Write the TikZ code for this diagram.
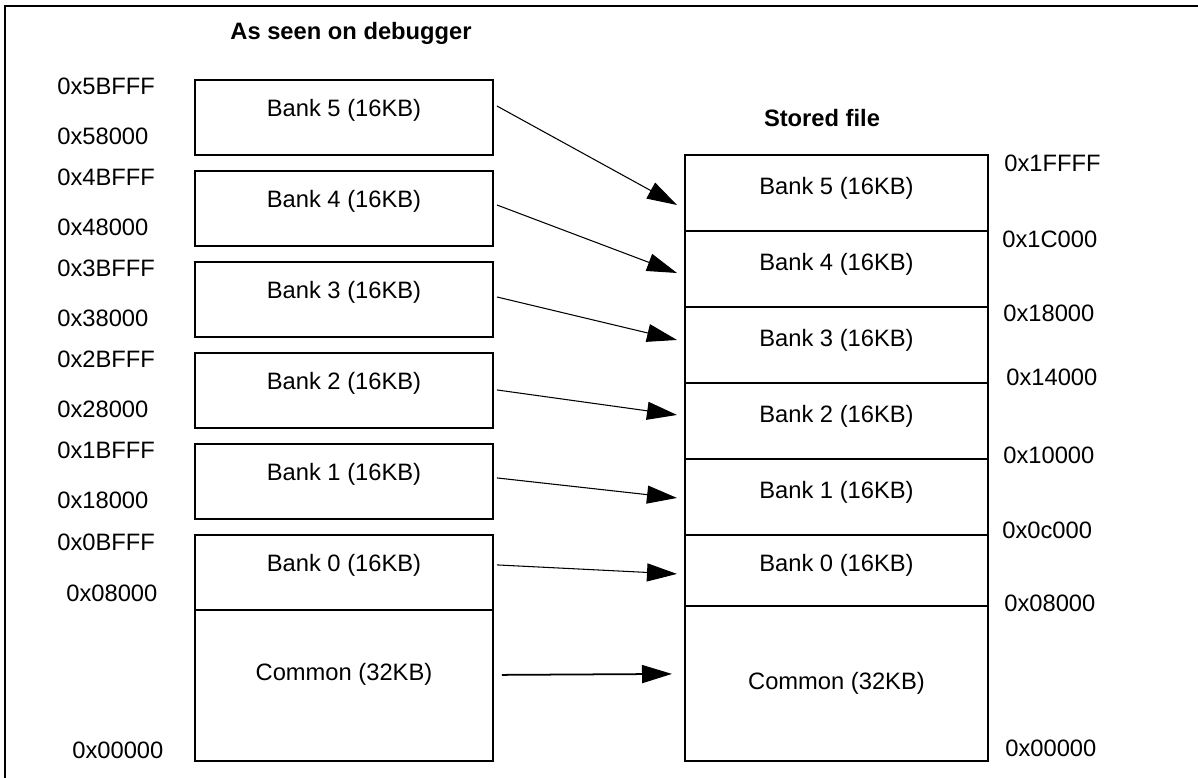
\documentclass[tikz,border=0pt]{standalone}
\usepackage{fontspec}
\setmainfont{Liberation Sans}
\usepackage{tikz}
\usetikzlibrary{positioning,arrows.meta}

\tikzset{
  lbox/.style={draw, line width=1pt, minimum width=5.96cm, minimum height=1.5cm, inner sep=0pt, outer sep=0pt},
  rbox/.style={draw, line width=1pt, minimum width=6.06cm, minimum height=1.52cm, inner sep=0pt, outer sep=0pt},
  addr/.style={anchor=west, inner sep=0pt},
  link/.style={-{Triangle[length=0.6cm,width=0.36cm]}, line width=0.6pt},
}

\begin{document}
\begin{tikzpicture}[x=0.02cm, y=-0.02cm, font=\fontsize{13.5}{16}\selectfont]
\useasboundingbox (0,0) rectangle (1198,778);
% frame
\draw[line width=1.3pt] (5,800) |- (1220,6);

\node[font=\fontsize{13.5}{16}\selectfont\bfseries] (tdbg) at (351,33) {As seen on debugger};
\node[font=\fontsize{13.5}{16}\selectfont\bfseries] (tfile) at (822,118) {Stored file};

% debugger view
\node[lbox, anchor=north west] (l5) at (195,80) {};
\node[lbox, below=0.32cm of l5] (l4) {};
\node[lbox, below=0.32cm of l4] (l3) {};
\node[lbox, below=0.32cm of l3] (l2) {};
\node[lbox, below=0.32cm of l2] (l1) {};
\node[lbox, below=0.32cm of l1] (l0) {};
\node[lbox, below=0pt of l0, minimum height=3.02cm] (lc) {};

% stored file
\node[rbox, anchor=north west] (r5) at (685,155) {};
\node[rbox, below=0pt of r5] (r4) {};
\node[rbox, below=0pt of r4] (r3) {};
\node[rbox, below=0pt of r3] (r2) {};
\node[rbox, below=0pt of r2] (r1) {};
\node[rbox, below=0pt of r1, minimum height=1.42cm] (r0) {};
\node[rbox, below=0pt of r0, minimum height=3.1cm] (rc) {};

\foreach \i in {0,...,5} {
  \node (ltx\i) at ([yshift=0.15cm]l\i.center) {Bank \i\ (16KB)};
  \node (rtx\i) at ([yshift=0.1cm]r\i.center) {Bank \i\ (16KB)};
}
\node (ltxc) at ([yshift=0.23cm]lc.center) {Common (32KB)};
\node (rtxc) at (rc.center) {Common (32KB)};

% addresses
\foreach \i/\a/\b/\y in {5/5BFFF/58000/80, 4/4BFFF/48000/171, 3/3BFFF/38000/262,
    2/2BFFF/28000/353, 1/1BFFF/18000/444} {
  \node[addr] (hi\i) at (57,\y+6) {0x\a};
  \node[addr] (lo\i) at (57,\y+56) {0x\b};
}
\node[addr] (hi0) at (57,542) {0x0BFFF};
\node[addr] (lo0) at (66,593) {0x08000};
\node[addr] (lozero) at (72,750) {0x00000};

\foreach \n/\a/\x/\y in {a/1FFFF/1004/163, b/1C000/1002/239, c/18000/1003/313,
    d/14000/1006/377, e/10000/1003/455, f/0c000/1002/530, g/08000/1004/603, h/00000/1005/748}
  \node[addr] (ra\n) at (\x,\y) {0x\a};

% mapping
\foreach \i/\a/\b in {5/26/50, 4/34/42, 3/35/33, 2/37/32, 1/34/39, 0/30/39}
  \draw[link] ([shift={(4,\a)}]l\i.north east) -- ([shift={(-8,\b)}]r\i.north west);
\draw[link, line width=1pt] ([shift={(9,65)}]lc.north east) -- ([shift={(-13,68)}]rc.north west);
\end{tikzpicture}
\end{document}
